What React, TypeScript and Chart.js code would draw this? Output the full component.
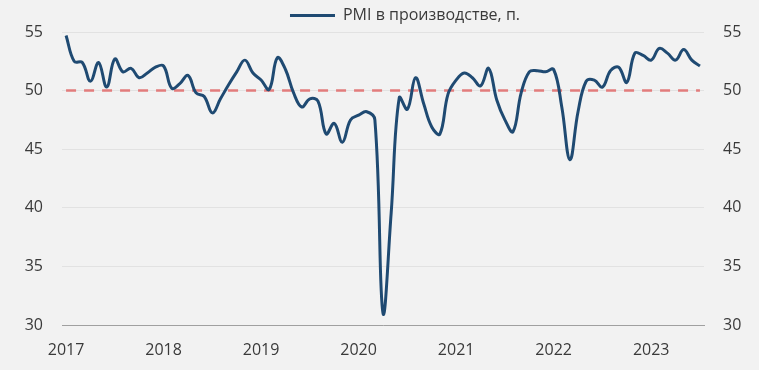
import { useEffect, useRef } from 'react';
import { Chart, registerables } from 'chart.js';

Chart.register(...registerables);

const YEARS = ['2017', '2018', '2019', '2020', '2021', '2022', '2023'];
const MONTHS = ['01', '02', '03', '04', '05', '06', '07', '08', '09', '10', '11', '12'];

const PMI_2017 = [54.7, 52.5, 52.4, 50.8, 52.4, 50.3, 52.7, 51.6, 51.9, 51.1, 51.5, 52.0];
const PMI_2018 = [52.1, 50.2, 50.6, 51.3, 49.8, 49.5, 48.1, 49.3, 50.5, 51.6, 52.6, 51.5];
const PMI_2019 = [50.9, 50.1, 52.8, 51.8, 49.8, 48.6, 49.3, 49.1, 46.3, 47.2, 45.6, 47.5];
const PMI_2020 = [47.9, 48.2, 47.5, 31.0, 39.5, 49.4, 48.4, 51.1, 48.9, 46.9, 46.3, 49.7];
const PMI_2021 = [50.9, 51.5, 51.1, 50.4, 51.9, 49.2, 47.5, 46.5, 49.8, 51.6, 51.7, 51.6];
const PMI_2022 = [51.8, 48.6, 44.1, 48.2, 50.8, 50.9, 50.3, 51.7, 52.0, 50.7, 53.2, 53.0];
const PMI_2023 = [52.6, 53.6, 53.2, 52.6, 53.5, 52.6, 52.1];

const SERIES_LABEL = 'PMI в производстве, п.';
const THRESHOLD = 50;
const Y_MIN = 30;
const Y_MAX = 55;
const Y_STEP = 5;

const PMI = [...PMI_2017, ...PMI_2018, ...PMI_2019, ...PMI_2020, ...PMI_2021, ...PMI_2022, ...PMI_2023];
const LABELS = PMI.map((_, i) => `${YEARS[Math.floor(i / 12)]}-${MONTHS[i % 12]}`);

const FONT = '"Open Sans", "Noto Sans", sans-serif';
const TEXT_COLOR = '#3a3a3a';
const BG = '#f2f2f2';
const LINE_COLOR = '#1f4a72';

const bgPlugin = {
  id: 'bg',
  beforeDraw(chart: any) {
    const ctx = chart.ctx;
    ctx.save();
    ctx.fillStyle = BG;
    ctx.fillRect(0, 0, chart.width, chart.height);
    ctx.restore();
  },
};

const legendPlugin = {
  id: 'customLegend',
  afterDraw(chart: any) {
    const ctx = chart.ctx;
    const ds = chart.data.datasets[0];
    ctx.save();
    ctx.font = `16px ${FONT}`;
    const tw = ctx.measureText(ds.label).width;
    const lineW = 45;
    const gap = 8;
    const total = lineW + gap + tw;
    const cx = 405;
    const x0 = cx - total / 2;
    const y = 15.5;
    ctx.strokeStyle = ds.borderColor;
    ctx.lineWidth = 3;
    ctx.beginPath();
    ctx.moveTo(x0, y);
    ctx.lineTo(x0 + lineW, y);
    ctx.stroke();
    ctx.fillStyle = TEXT_COLOR;
    ctx.textBaseline = 'middle';
    ctx.textAlign = 'left';
    ctx.fillText(ds.label, x0 + lineW + gap, y);
    ctx.restore();
  },
};

export default function App() {
  const ref = useRef<HTMLCanvasElement | null>(null);

  useEffect(() => {
    document.body.style.margin = '0';
    document.body.style.background = BG;
    const canvas = ref.current;
    if (!canvas) return;
    const chart = new Chart(canvas, {
      type: 'line',
      data: {
        labels: LABELS,
        datasets: [
          {
            label: SERIES_LABEL,
            data: PMI,
            borderColor: LINE_COLOR,
            backgroundColor: LINE_COLOR,
            borderWidth: 3,
            pointRadius: 0,
            tension: 0.4,
            yAxisID: 'y',
          },
          {
            label: 'threshold',
            data: LABELS.map(() => THRESHOLD),
            borderColor: '#e27c7c',
            borderWidth: 2.5,
            borderDash: [10, 8],
            pointRadius: 0,
            tension: 0,
            yAxisID: 'y',
          },
        ],
      },
      options: {
        responsive: false,
        animation: false,
        layout: { padding: { top: 32, bottom: 0, left: 0, right: 0 } },
        plugins: {
          legend: { display: false },
          tooltip: { enabled: false },
        },
        scales: {
          x: {
            type: 'category',
            offset: true,
            grid: { display: false, drawTicks: false },
            border: { display: true, color: '#a0a0a0', width: 1 },
            ticks: {
              autoSkip: false,
              maxRotation: 0,
              padding: 16,
              color: TEXT_COLOR,
              font: { family: FONT, size: 16 },
              callback: (_v: any, i: number) => (i % 12 === 0 ? YEARS[i / 12] : null),
            },
            afterFit: (s: any) => {
              s.height = 45;
            },
          },
          y: {
            position: 'left',
            min: Y_MIN,
            max: Y_MAX,
            grid: { color: '#e2e2e2', drawTicks: false },
            border: { display: false },
            ticks: {
              stepSize: Y_STEP,
              padding: 19,
              color: TEXT_COLOR,
              font: { family: FONT, size: 16 },
            },
            afterFit: (s: any) => {
              s.width = 62;
            },
          },
          y2: {
            position: 'right',
            min: Y_MIN,
            max: Y_MAX,
            grid: { display: false, drawTicks: false },
            border: { display: false },
            ticks: {
              stepSize: Y_STEP,
              padding: 19,
              color: TEXT_COLOR,
              font: { family: FONT, size: 16 },
            },
            afterFit: (s: any) => {
              s.width = 55;
            },
          },
        },
      },
      plugins: [bgPlugin, legendPlugin],
    });
    return () => chart.destroy();
  }, []);

  return (
    <div style={{ width: 759, height: 370, background: BG }}>
      <canvas ref={ref} width={759} height={370} />
    </div>
  );
}
